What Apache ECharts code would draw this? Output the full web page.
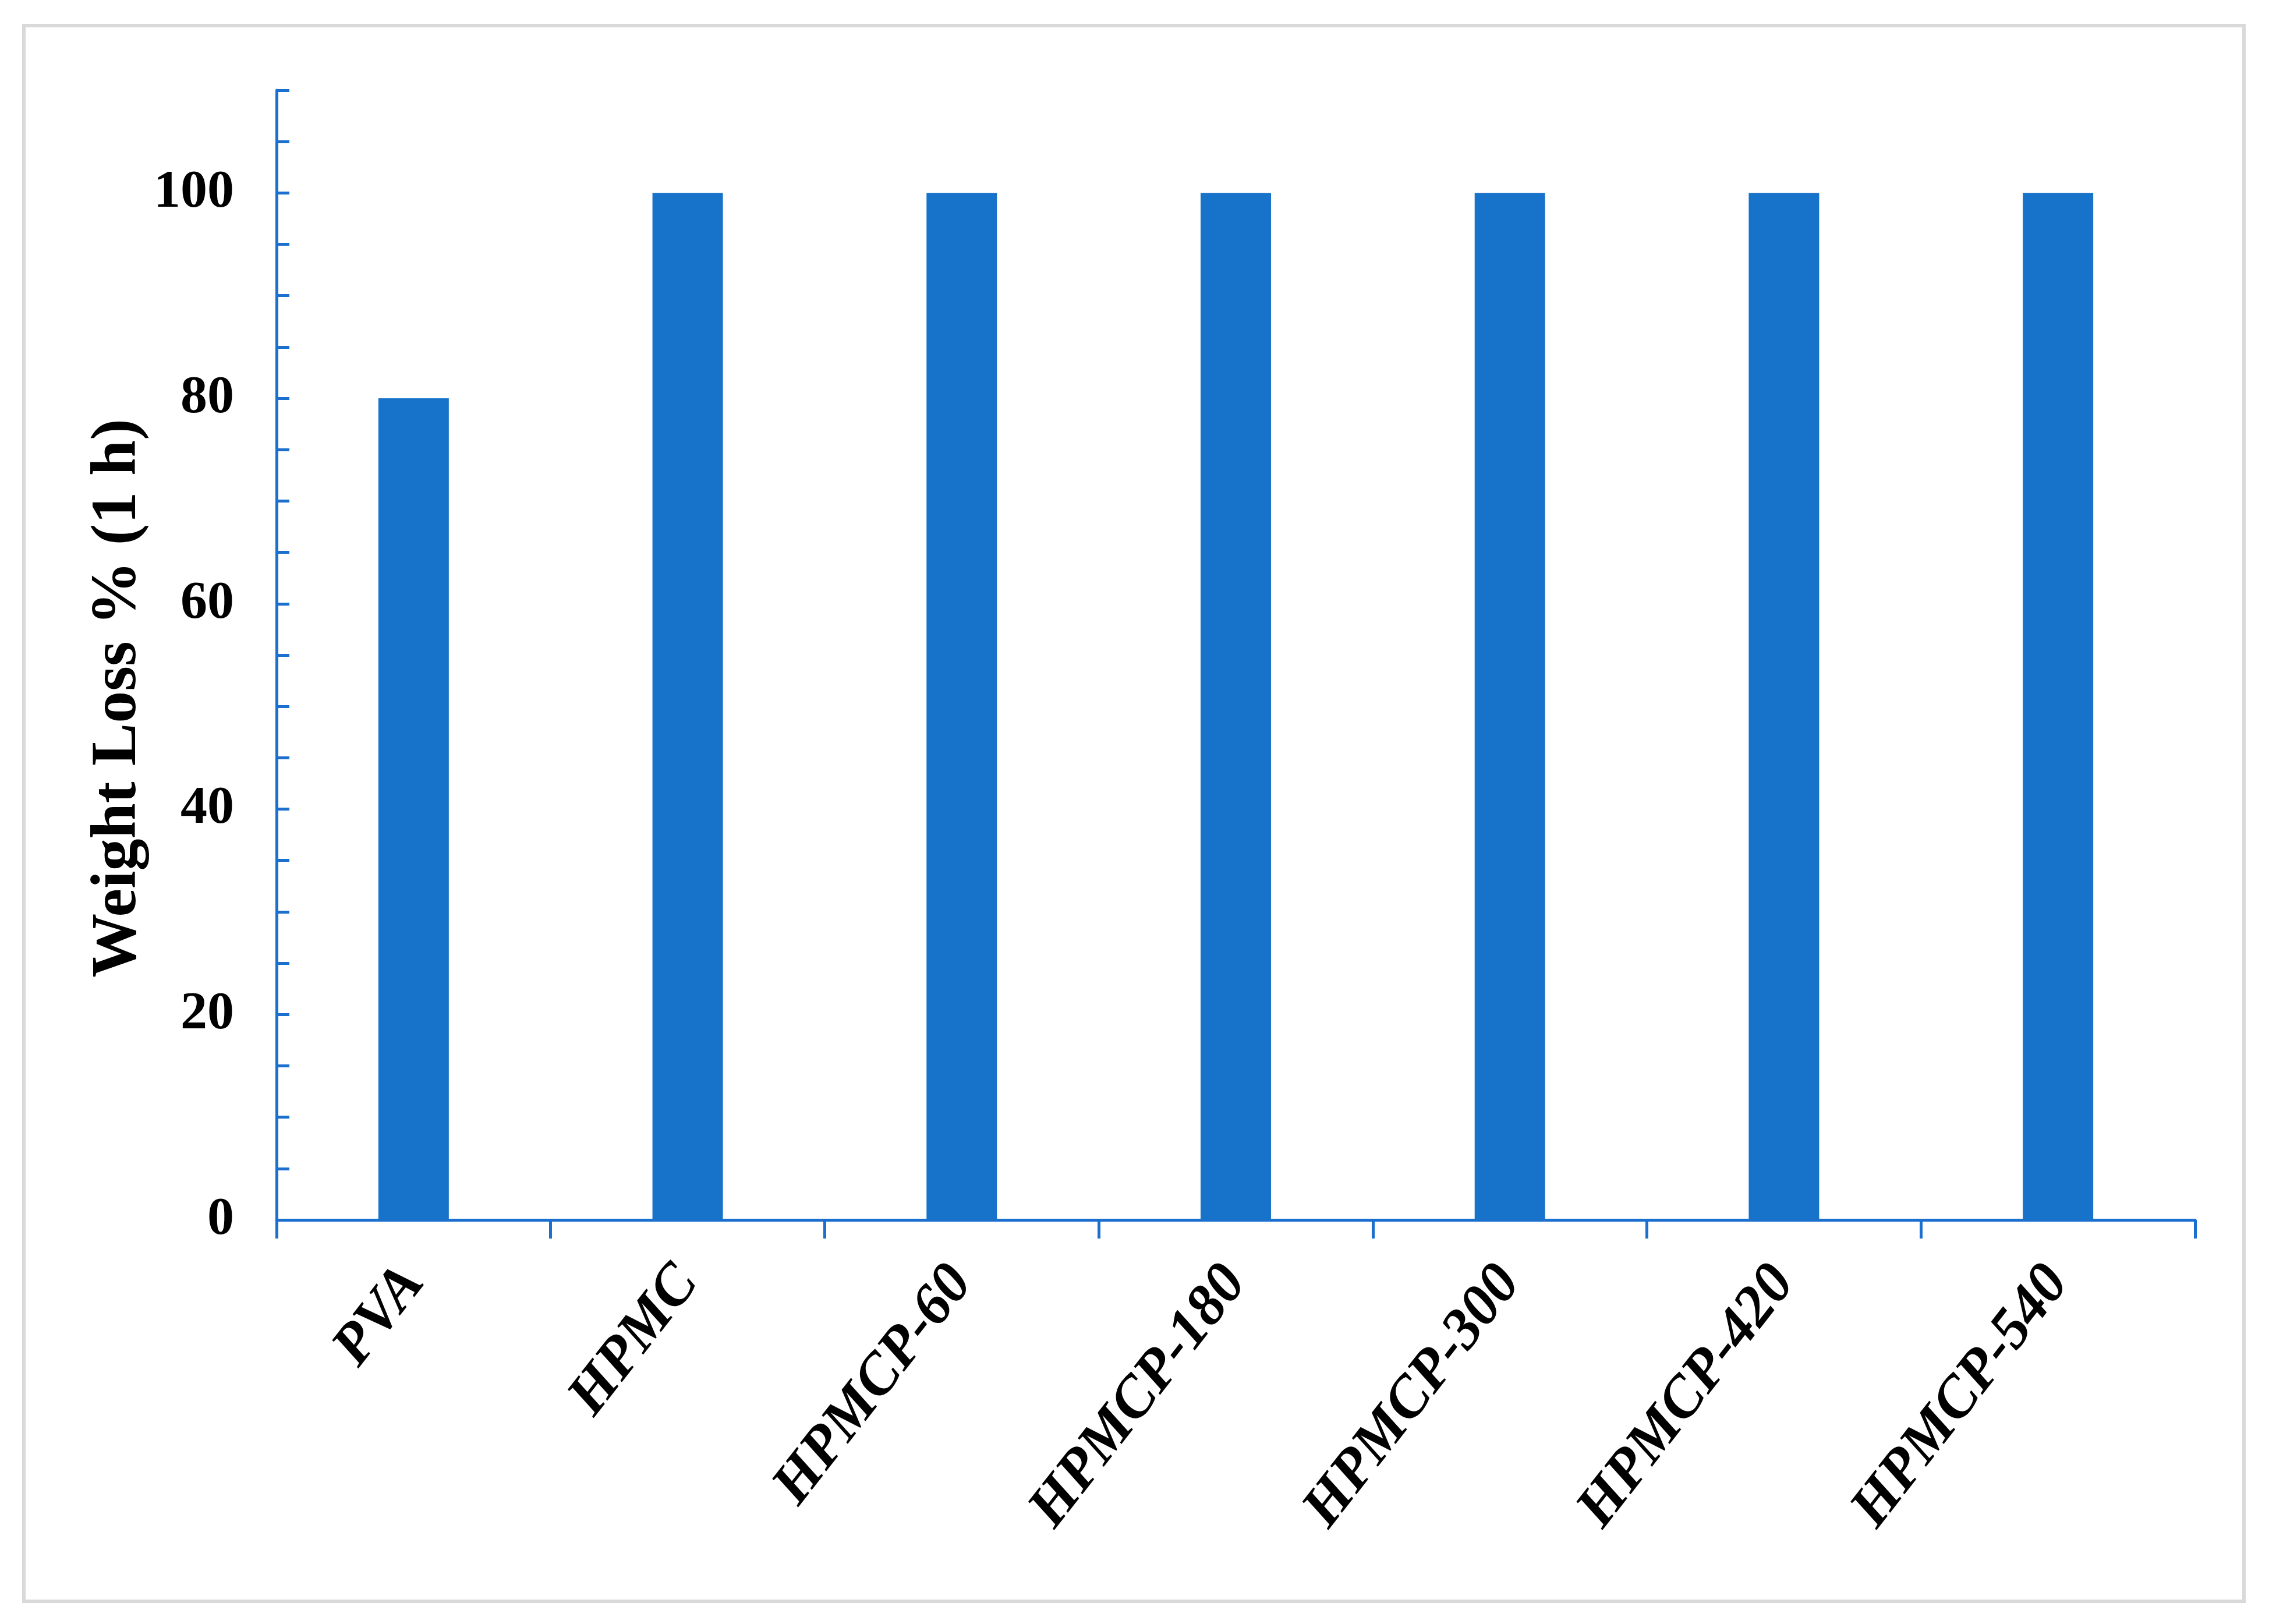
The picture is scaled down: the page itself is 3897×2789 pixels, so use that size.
<!DOCTYPE html>
<html>
<head>
<meta charset="utf-8">
<script src="https://cdn.jsdelivr.net/npm/echarts@6/dist/echarts.min.js"></script>
<style>
  html, body { margin: 0; padding: 0; background: #fff; }
  #chart { width: 3897px; height: 2789px; }
</style>
</head>
<body>
<div id="chart"></div>
<script>
// data
const categories = ['PVA', 'HPMC', 'HPMCP-60', 'HPMCP-180', 'HPMCP-300', 'HPMCP-420', 'HPMCP-540']
const weightLoss = [80, 100, 100, 100, 100, 100, 100]
const yMin = 0
const yMax = 110
const yStep = 5        // minor ticks
const yLabelStep = 20  // labelled ticks

const axisColor = '#1a6fcf'
const barColor = '#1772c9'
const serif = '"Liberation Serif", "Times New Roman", serif'

const chart = echarts.init(document.getElementById('chart'))

const option = {
  animation: false,
  backgroundColor: '#fff',
  grid: {
    left: 475,
    right: 127,
    top: 155,
    bottom: 694,
    outerBoundsMode: 'none'
  },
  graphic: [
    {
      // light grey frame round the figure
      type: 'rect',
      shape: { x: 41, y: 44, width: 3813, height: 2706 },
      style: { fill: 'none', stroke: '#d9d9d9', lineWidth: 6 },
      silent: true
    },
    {
      type: 'text',
      x: 204,
      y: 1199,
      rotation: Math.PI / 2,
      style: {
        text: 'Weight Loss % (1 h)',
        font: 'bold 110px ' + serif,
        fill: '#000',
        align: 'center',
        verticalAlign: 'middle'
      }
    }
  ],
  xAxis: {
    type: 'category',
    data: categories,
    axisLine: { lineStyle: { color: axisColor, width: 5 } },
    axisTick: { show: true, length: 32, lineStyle: { color: axisColor, width: 5 } },
    axisLabel: {
      rotate: 52,
      margin: 92,
      interval: 0,
      color: '#000',
      fontFamily: serif,
      fontSize: 100,
      fontWeight: 'bold',
      fontStyle: 'italic'
    }
  },
  yAxis: {
    type: 'value',
    min: yMin,
    max: yMax,
    interval: yStep,
    splitLine: { show: false },
    axisLine: { show: true, lineStyle: { color: axisColor, width: 5 } },
    axisTick: { show: true, inside: true, length: 22, lineStyle: { color: axisColor, width: 5 } },
    axisLabel: {
      margin: 73,
      color: '#000',
      fontFamily: serif,
      fontSize: 92,
      fontWeight: 'bold',
      formatter: v => (v % yLabelStep === 0 ? String(v) : '')
    }
  },
  series: [
    {
      type: 'bar',
      data: weightLoss,
      barWidth: '25.7%',
      itemStyle: { color: barColor }
    }
  ]
}

chart.setOption(option)
</script>
</body>
</html>
